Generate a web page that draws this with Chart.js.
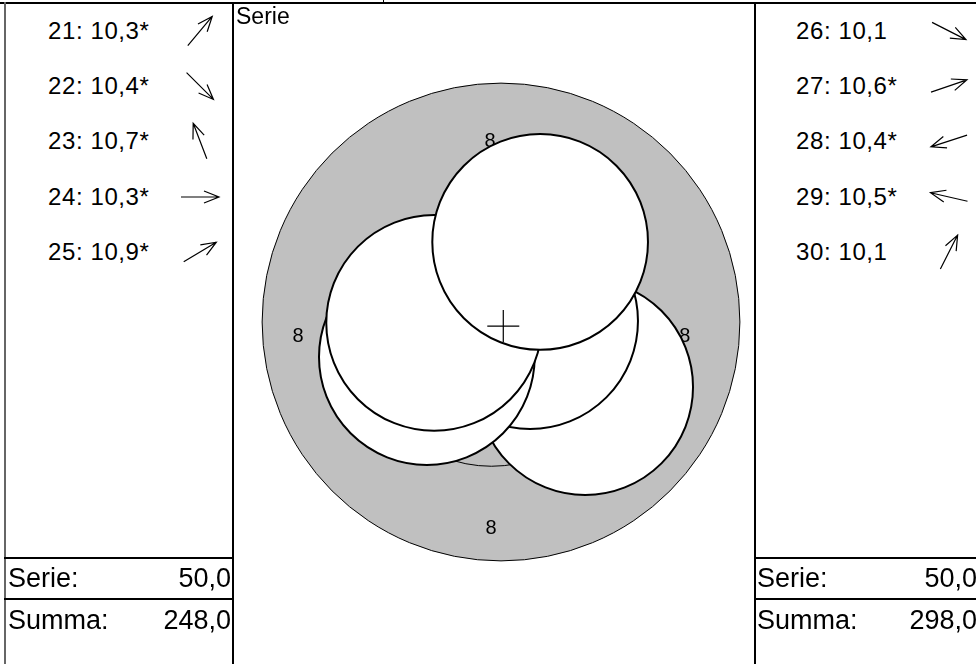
<!DOCTYPE html>
<html><head><meta charset="utf-8">
<script src="https://cdn.jsdelivr.net/npm/chart.js@4/dist/chart.umd.min.js"></script>
<style>
html,body{margin:0;padding:0;background:#fff;}
body{width:976px;height:664px;position:relative;overflow:hidden;font-family:"Liberation Sans",Arial,sans-serif;color:#000;}
.ln{position:absolute;background:#000;}
.txt{position:absolute;white-space:nowrap;line-height:1;}
#wrap{position:absolute;left:233px;top:3px;width:521px;height:661px;}
</style></head><body>
<div id="wrap"><canvas id="c"></canvas></div>
<div id="panels"></div>
<script>
// ---- data ----
const leftShots = ["21", "22", "23", "24", "25"];
const leftScores = ["10,3*", "10,4*", "10,7*", "10,3*", "10,9*"];
const leftDirs = [50, -45, 111, 0, 31];          // arrow direction, degrees
const rightShots = ["26", "27", "28", "29", "30"];
const rightScores = ["10,1", "10,6*", "10,4*", "10,5*", "10,1"];
const rightDirs = [-27, 19, 198, 167, 63];
const leftSerie = "50,0", leftSumma = "248,0";
const rightSerie = "50,0", rightSumma = "298,0";
// shot positions on target (mm from centre), series 26-30
const shotX = [1.85, 0.64, -1.63, -1.47, 0.86];
const shotY = [-1.43, 0.02, -0.77, -0.02, 1.76];
const shotRadius = 2.37;          // mm
const ring8 = {x: 0, y: 0, r: 5.25};        // grey ring 8 outer edge
const ring9 = {x: -0.21, y: -0.29, r: 2.88}; // thin ring 9 line
const ringLabels = ["8", "8", "8", "8"];
const ringLabelX = [-4.46, 4.04, -0.24, -0.22];
const ringLabelY = [-0.31, -0.31, 3.96, -4.53];
const groupCenter = [0.05, -0.09];

// ---- side panels ----
const P = document.getElementById('panels');
function line(x,y,w,h,col){const d=document.createElement('div');d.className='ln';d.style.cssText=`left:${x}px;top:${y}px;width:${w}px;height:${h}px;background:${col||'#000'}`;P.appendChild(d);}
function text(s,x,y,size,align,ls){const d=document.createElement('div');d.className='txt';d.textContent=s;d.style.fontSize=size+'px';if(ls)d.style.letterSpacing=ls+'px';d.style.top=(y-size/2)+'px';if(align==='right'){d.style.right=(976-x)+'px';}else{d.style.left=x+'px';}P.appendChild(d);}
function arrow(cx,cy,deg){
  const ns='http://www.w3.org/2000/svg';
  const s=document.createElementNS(ns,'svg');
  s.setAttribute('width',50);s.setAttribute('height',50);
  s.style.cssText=`position:absolute;left:${cx-25}px;top:${cy-25}px;overflow:visible`;
  const g=document.createElementNS(ns,'g');
  g.setAttribute('transform',`translate(25,25) rotate(${-deg})`);
  const p=document.createElementNS(ns,'path');
  p.setAttribute('d','M-19,0 L19,0 M4,-6 L19,0 L4,6');
  p.setAttribute('stroke','#000');p.setAttribute('stroke-width','1.2');p.setAttribute('fill','none');
  g.appendChild(p);s.appendChild(g);P.appendChild(s);
}
line(0,2,976,1.5,'#000');
line(383,0,1,2,'#000');
line(4,2,1.5,662,'#666');
line(232,2,1.5,662,'#000');
line(754,2,1.5,662,'#000');
line(4,557,229,1.5,'#000');
line(4,598,229,1.5,'#000');
line(754,557,222,1.5,'#000');
line(754,598,222,1.5,'#000');
const rowY=[31,86,141,197,252];
leftShots.forEach((n,i)=>{text(n+': '+leftScores[i],48,rowY[i],24,null,0.6);arrow(200,rowY[i],leftDirs[i]);});
rightShots.forEach((n,i)=>{text(n+': '+rightScores[i],796,rowY[i],24,null,0.6);arrow(949,rowY[i],rightDirs[i]);});
text('Serie:',8,578,27);text(leftSerie,231,578,27,'right');
text('Summa:',8,620,27);text(leftSumma,231,620,27,'right');
text('Serie:',757,578,27);text(rightSerie,977,578,27,'right');
text('Summa:',757,620,27);text(rightSumma,977,620,27,'right');
text('Serie',236,16,23);

// ---- target chart ----
const targetPlugin={
  id:'target',
  beforeDatasetsDraw(chart){
    const {ctx,scales:{x,y}}=chart;
    const pr=r=>x.getPixelForValue(r)-x.getPixelForValue(0);
    ctx.save();
    ctx.beginPath();ctx.arc(x.getPixelForValue(ring8.x),y.getPixelForValue(ring8.y),pr(ring8.r),0,Math.PI*2);
    ctx.fillStyle='#c0c0c0';ctx.fill();
    ctx.lineWidth=1;ctx.strokeStyle='#000';ctx.stroke();
    ctx.beginPath();ctx.arc(x.getPixelForValue(ring9.x),y.getPixelForValue(ring9.y),pr(ring9.r),0,Math.PI*2);
    ctx.stroke();
    ctx.fillStyle='#000';ctx.font='20px "Liberation Sans", Arial, sans-serif';
    ctx.textAlign='center';ctx.textBaseline='middle';
    ringLabels.forEach((t,i)=>ctx.fillText(t,x.getPixelForValue(ringLabelX[i]),y.getPixelForValue(ringLabelY[i])));
    ctx.restore();
  }
};
const shotPx=c=>{const x=c.chart.scales.x;return x.getPixelForValue(shotRadius)-x.getPixelForValue(0);};
new Chart(document.getElementById('c'),{
  type:'scatter',
  data:{datasets:[
    {data:[{x:groupCenter[0],y:groupCenter[1]}],pointStyle:'cross',pointRadius:16,pointHoverRadius:16,
     borderColor:'#000',pointBorderColor:'#000',borderWidth:1.2,pointBorderWidth:1.2},
    {data:shotX.map((v,i)=>({x:v,y:shotY[i]})),pointRadius:shotPx,pointHoverRadius:shotPx,
     backgroundColor:'#fff',borderColor:'#000',borderWidth:2,pointStyle:'circle'}
  ]},
  options:{
    responsive:true,maintainAspectRatio:false,animation:false,events:[],
    layout:{padding:0,autoPadding:false},
    plugins:{legend:{display:false},tooltip:{enabled:false},title:{display:false}},
    scales:{
      x:{type:'linear',display:false,min:-5.89,max:5.56},
      y:{type:'linear',display:false,min:-7.516,max:7.011}
    }
  },
  plugins:[targetPlugin]
});
</script>
</body></html>
